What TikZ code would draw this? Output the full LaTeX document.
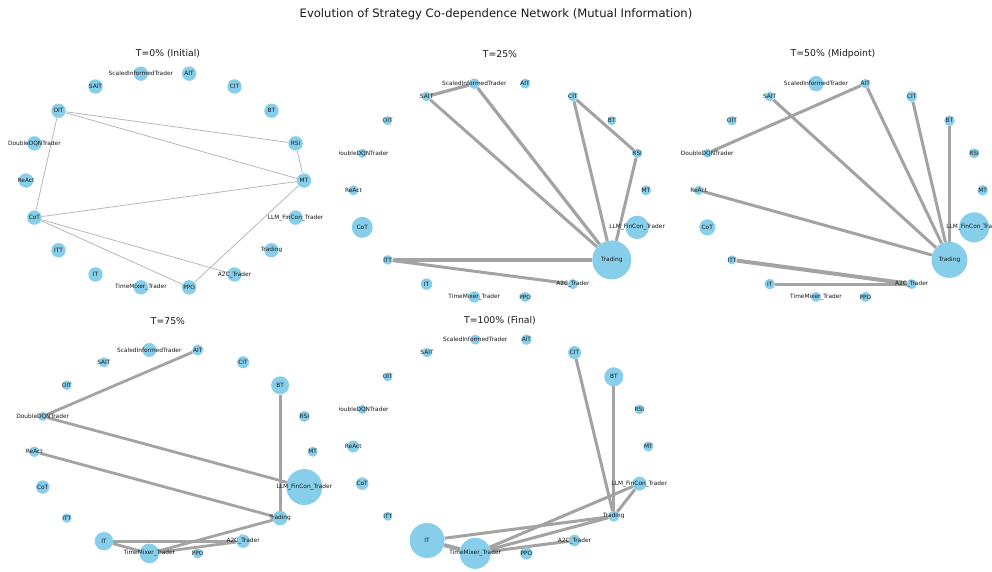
\documentclass[tikz,border=0pt]{standalone}
\usepackage{fontspec}
\setmainfont{DejaVu Sans}
\definecolor{nodeblue}{HTML}{87CEEB}
\definecolor{edgegray}{HTML}{A3A3A3}
\definecolor{thingray}{HTML}{B4B4B4}
\pgfdeclarelayer{edges}
\pgfdeclarelayer{paper}
\pgfsetlayers{paper,edges,main}
\tikzset{
  dot/.style={circle, fill=nodeblue, draw=none, inner sep=0pt},
  lbl/.style={font=\fontsize{5.85}{6}\selectfont, inner sep=0pt, text=black!90},
  ptitle/.style={font=\fontsize{9.3}{11}\selectfont, inner sep=0pt, text=black!90},
  maintitle/.style={font=\fontsize{11.6}{13}\selectfont, inner sep=0pt, text=black!90},
}
\newcommand\stratlist{MT/MT,RSI/RSI,BT/BT,CIT/CIT,AIT/AIT,SIT/ScaledInformedTrader,SAIT/SAIT,OIT/OIT,DDQN/DoubleDQNTrader,ReAct/ReAct,CoT/CoT,ITT/ITT,IT/IT,TM/TimeMixer\_Trader,PPO/PPO,A2C/A2C\_Trader,TR/Trading,LLM/LLM\_FinCon\_Trader}
% #1 prefix, #2 cx, #3 cy, #4 rx, #5 ry, #6 radii
\newcommand\circles[6]{%
  \def\radii{{#6}}%
  \foreach \nm/\tx [count=\k from 0] in \stratlist {%
    \pgfmathsetmacro\rr{\radii[\k]}%
    \node[dot, minimum size=2*\rr pt] (#1\nm) at ({#2+#4*cos(20*\k)},{#3-#5*sin(20*\k)}) {};
  }}
\newcommand\nodelabels[1]{%
  \foreach \nm/\tx in \stratlist {\node[lbl] at (#1\nm) {\tx};}}
\newcommand\links[3][edgegray]{%
  \begin{pgfonlayer}{edges}
  \foreach \a/\b/\w in {#3} {\draw[draw=#1, line width=\w pt] (#2\a) -- (#2\b);}
  \end{pgfonlayer}}
\begin{document}
\begin{tikzpicture}[x=1pt,y=-1pt]
\begin{pgfonlayer}{paper}
\fill[white] (0,0) rectangle (992,571);
\end{pgfonlayer}
\useasboundingbox (0,0) rectangle (992,571);

\node[maintitle] (title) at (496,14) {Evolution of Strategy Co-dependence Network (Mutual Information)};

% Panel 1
\node[ptitle] (t1) at (168,54) {T=0\% (Initial)};
\circles{a}{165}{180.5}{139}{108.5}{7.2,7.2,7.2,7.2,7.2,7.2,7.2,7.2,7.2,7.2,7.2,7.2,7.2,7.2,7.2,7.2,7.2,7.2}
\links[thingray]{a}{OIT/RSI/0.75,OIT/MT/0.75,OIT/CoT/0.75,RSI/MT/0.75,MT/CoT/0.75,MT/PPO/0.75,CoT/A2C/0.75,CoT/PPO/0.75}
\nodelabels{a}

% Panel 2
\node[ptitle] (t2) at (500,54) {T=25\%};
\circles{b}{499.7}{190.3}{146.3}{108.3}{5,4.8,4.5,4.8,5,5.3,4.8,4.5,4.5,5,10.5,4.8,5.7,5.7,5,5,19.5,11.7}
\links{b}{SAIT/SIT/3.2,SAIT/TR/3,SIT/TR/3.2,CIT/RSI/3,CIT/TR/3,RSI/TR/3,ITT/TR/3.3,ITT/A2C/3}
\begin{scope}
\clip (339,30) rectangle (680,310);
\nodelabels{b}
\end{scope}

% Panel 3
\node[ptitle] (t3) at (833,54) {T=50\% (Midpoint)};
\circles{c}{840.7}{190.3}{142}{108.3}{5.3,5,5.3,5.3,4.7,7.7,4.7,4.7,4.5,4.7,8,4.5,5.3,5,5,5,18,15}
\links{c}{DDQN/AIT/3,SAIT/TR/3,AIT/TR/3,CIT/TR/3,BT/TR/3,ReAct/TR/3,ITT/A2C/4,IT/A2C/3}
\nodelabels{c}

% Panel 4
\node[ptitle] (t4) at (168,320.7) {T=75\%};
\circles{d}{173.5}{451.7}{139.2}{103.3}{5,5.5,9,6,5.5,7,5,4.7,4.5,5.3,6.7,4.7,9.2,9.8,5,6.7,7.3,18}
\links{d}{DDQN/AIT/2.8,DDQN/LLM/2.8,BT/TR/2.8,ReAct/TR/2.8,TR/TM/2.8,IT/A2C/2.8,IT/TM/2.8,TM/A2C/2.8}
\nodelabels{d}

% Panel 5
\node[ptitle] (t5) at (500,320.7) {T=100\% (Final)};
\circles{e}{500.8}{446.5}{147.5}{108.5}{5,4.8,9.5,6.5,5.3,5,4.8,4.5,4.5,6,6.3,4.5,17.5,15.5,6.2,5.8,5.5,7}
\links{e}{CIT/TR/3,BT/TR/3,LLM/TR/3,LLM/TM/3,IT/TR/3,TM/TR/3,IT/TM/4,TM/A2C/3}
\begin{scope}
\clip (339,310) rectangle (680,571);
\nodelabels{e}
\end{scope}
\end{tikzpicture}
\end{document}
